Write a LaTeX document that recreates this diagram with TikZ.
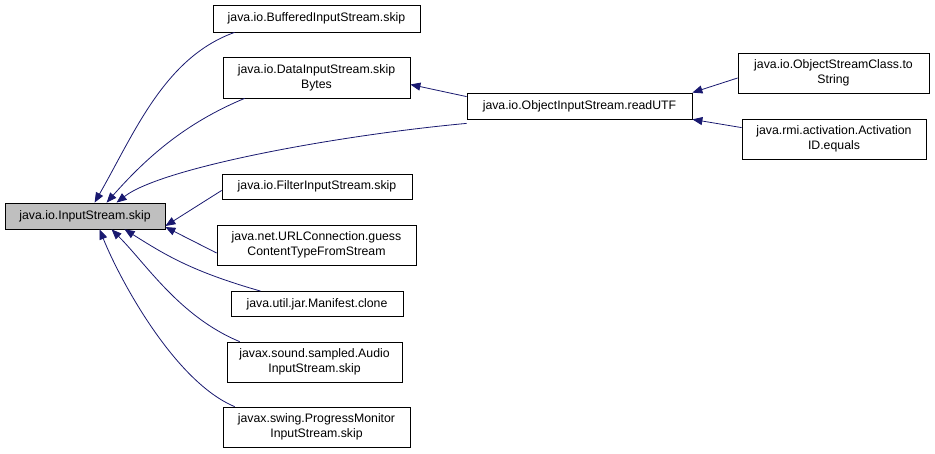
\documentclass[tikz,border=0pt]{standalone}
\usepackage{fontspec}
\setmainfont{Liberation Sans}
\usetikzlibrary{arrows.meta}
\definecolor{edgeblue}{HTML}{191970}
\definecolor{mainfill}{HTML}{BFBFBF}
\begin{document}
\begin{tikzpicture}[x=1pt,y=-1pt,
  box/.style={draw=black,line width=0.8pt,fill=white,inner sep=0pt,align=center,font=\fontsize{12.3}{15}\selectfont},
  edge/.style={draw=edgeblue,line width=0.8pt,-{Triangle[length=10pt,width=8pt]}}]
\useasboundingbox (0,0) rectangle (935,454);
\fill[white] (0,0) rectangle (935,454);
\node[box,fill=mainfill,minimum width=160pt,minimum height=26pt] (main) at (85,216) {java.io.InputStream.skip};
\node[box,minimum width=207pt,minimum height=27pt] (buf) at (316.5,18.5) {java.io.BufferedInputStream.skip};
\node[box,minimum width=187pt,minimum height=41pt] (data) at (316.5,77.5) {java.io.DataInputStream.skip\\Bytes};
\node[box,minimum width=225pt,minimum height=26pt] (utf) at (579.5,106) {java.io.ObjectInputStream.readUTF};
\node[box,minimum width=191pt,minimum height=40pt] (osc) at (833.5,73) {java.io.ObjectStreamClass.to\\String};
\node[box,minimum width=184pt,minimum height=40pt] (aid) at (834,139) {java.rmi.activation.Activation\\ID.equals};
\node[box,minimum width=190pt,minimum height=25pt] (filter) at (317,186.5) {java.io.FilterInputStream.skip};
\node[box,minimum width=199pt,minimum height=40pt] (url) at (316.5,245) {java.net.URLConnection.guess\\ContentTypeFromStream};
\node[box,minimum width=172pt,minimum height=25pt] (man) at (317,304) {java.util.jar.Manifest.clone};
\node[box,minimum width=175pt,minimum height=40pt] (audio) at (314.5,362) {javax.sound.sampled.Audio\\InputStream.skip};
\node[box,minimum width=187pt,minimum height=40pt] (prog) at (316.5,427) {javax.swing.ProgressMonitor\\InputStream.skip};

\draw[edge] ([xshift=22pt]buf.south west) .. controls +(-70,25) and +(40,-70) .. ([xshift=90pt]main.north west);
\draw[edge] ([xshift=22pt]data.south west) .. controls +(-60,25) and +(40,-45) .. ([xshift=102pt]main.north west);
\draw[edge] ([yshift=-4pt]utf.south west) .. controls +(-130,12) and +(45,-35) .. ([xshift=112pt]main.north west);
\draw[edge] ([yshift=-4pt]filter.west) -- ([yshift=-10pt]main.east);
\draw[edge] ([yshift=-8pt]url.west) -- ([yshift=-11pt]main.east);
\draw[edge] ([xshift=30pt]man.north west) .. controls +(-70,-20) and +(40,25) .. ([xshift=120pt]main.south west);
\draw[edge] ([xshift=13pt]audio.north west) .. controls +(-60,-25) and +(35,35) .. ([xshift=107pt]main.south west);
\draw[edge] ([xshift=12pt]prog.north west) .. controls +(-60,-25) and +(20,50) .. ([xshift=95pt]main.south west);
\draw[edge] ([yshift=-4pt]utf.north west) -- ([yshift=-7pt]data.east);
\draw[edge] ([yshift=-5pt]osc.west) -- (utf.north east);
\draw[edge] ([yshift=-9pt]aid.north west) -- (utf.south east);
\end{tikzpicture}
\end{document}
